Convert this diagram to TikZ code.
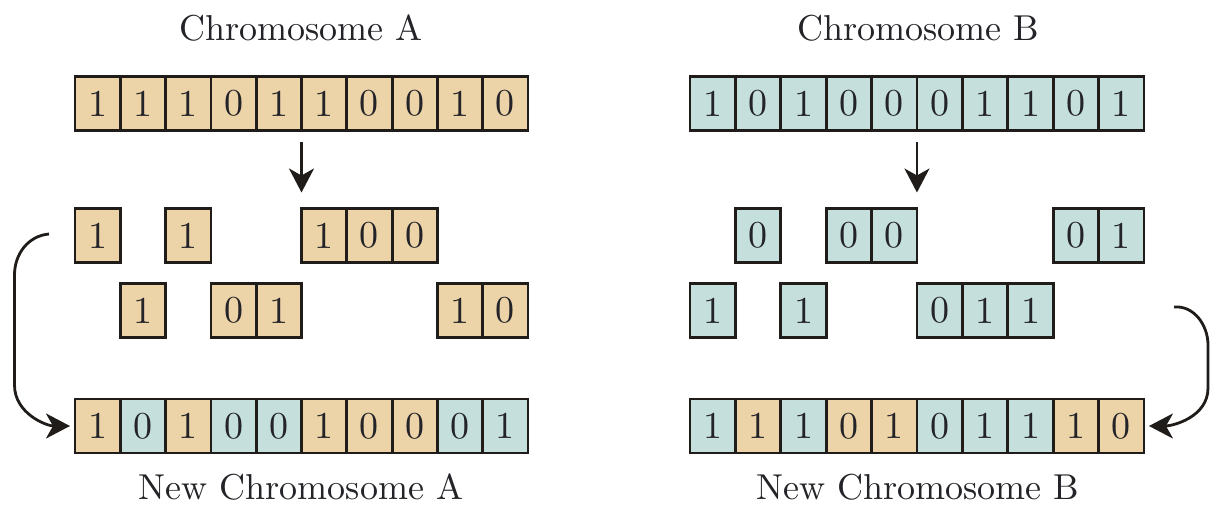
\documentclass[tikz,border=0pt]{standalone}
\usepackage{fontspec}
\setmainfont{lmroman10-regular.otf}
\usetikzlibrary{arrows.meta}
\definecolor{tan}{RGB}{236,211,168}
\definecolor{teal}{RGB}{197,224,220}
\definecolor{ink}{RGB}{32,28,26}
\definecolor{txt}{RGB}{35,35,40}
\tikzset{
  cell/.style={rectangle, draw=ink, line width=2.8pt, minimum width=45.3pt, minimum height=54pt, inner sep=0pt, outer sep=0pt, text=txt, font=\fontsize{38}{42}\selectfont},
  ta/.style={cell, fill=tan},
  tb/.style={cell, fill=teal},
  title/.style={text=txt, font=\fontsize{36}{40}\selectfont, anchor=base},
  arr/.style={draw=ink, line width=2.8pt, -{Stealth[length=24pt,width=25pt,inset=7pt]}}
}
\begin{document}
\begin{tikzpicture}[x=1pt,y=-1pt]
\useasboundingbox (0,0) rectangle (1218,510);
% titles
\node[title] (tA) at (301,41) {Chromosome A};
\node[title] (tB) at (918,41) {Chromosome B};
\node[title] (nA) at (301,499) {New Chromosome A};
\node[title] (nB) at (918,499) {New Chromosome B};
% Chromosome A
\foreach \v [count=\i from 0] in {1,1,1,0,1,1,0,0,1,0}
  \node[ta] (a\i) at ({75+45.3*(\i+0.5)},103.5) {\v};
% Chromosome B
\foreach \v [count=\i from 0] in {1,0,1,0,0,0,1,1,0,1}
  \node[tb] (b\i) at ({690+45.4*(\i+0.5)},103.5) {\v};
% fragments A, row 2
\foreach \i/\v in {0/1,2/1,5/1,6/0,7/0}
  \node[ta] (ar\i) at ({75+45.3*(\i+0.5)},235.5) {\v};
% fragments A, row 3
\foreach \i/\v in {1/1,3/0,4/1,8/1,9/0}
  \node[ta] (as\i) at ({75+45.3*(\i+0.5)},310.5) {\v};
% fragments B, row 2
\foreach \i/\v in {1/0,3/0,4/0,8/0,9/1}
  \node[tb] (br\i) at ({690+45.4*(\i+0.5)},235.5) {\v};
% fragments B, row 3
\foreach \i/\v in {0/1,2/1,5/0,6/1,7/1}
  \node[tb] (bs\i) at ({690+45.4*(\i+0.5)},310.5) {\v};
% New chromosome A
\foreach \v/\s [count=\i from 0] in {1/ta,0/tb,1/ta,0/tb,0/tb,1/ta,0/ta,0/ta,0/tb,1/tb}
  \node[\s] (na\i) at ({75+45.3*(\i+0.5)},426) {\v};
% New chromosome B
\foreach \v/\s [count=\i from 0] in {1/tb,1/ta,1/tb,0/ta,1/ta,0/tb,1/tb,1/tb,1/ta,0/ta}
  \node[\s] (nb\i) at ({690+45.4*(\i+0.5)},426) {\v};
% straight arrows
\coordinate (dA) at ([yshift=-62pt]a4.south east);
\coordinate (dB) at ([yshift=-62pt]b4.south east);
\draw[arr, shorten <=12pt] (a4.south east) -- (dA);
\draw[arr, shorten <=12pt] (b4.south east) -- (dB);
% curved arrows
\coordinate (sL) at (49,234);
\coordinate (sR) at (1174,307);
\draw[arr, shorten >=5pt] (sL) to[out=185,in=90] (14.5,275) -- (14.5,385) to[out=-90,in=180] (na0.west);
\draw[arr, shorten >=5pt] (sR) to[out=5,in=90] (1208,345) -- (1208,388) to[out=-90,in=0] (nb9.east);
\end{tikzpicture}
\end{document}
